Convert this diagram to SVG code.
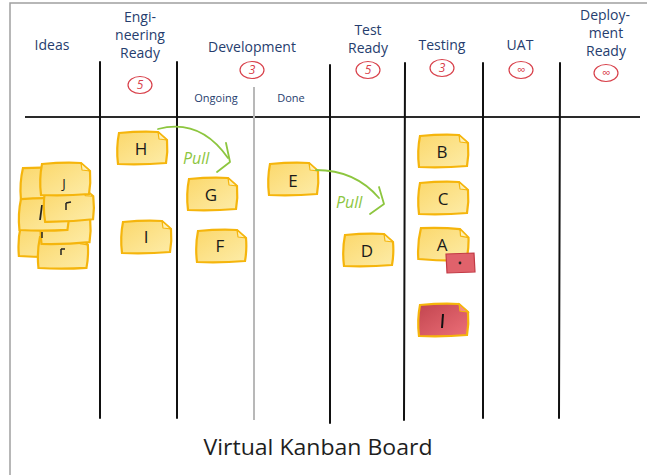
<svg xmlns="http://www.w3.org/2000/svg" width="647" height="475" viewBox="0 0 647 475">
  <defs>
    <linearGradient id="noteFill" x1="0" y1="0" x2="1" y2="1">
      <stop offset="0" stop-color="#fbd86c"/>
      <stop offset="1" stop-color="#fdeca8"/>
    </linearGradient>
    <linearGradient id="redFill" x1="0" y1="0" x2="1" y2="1">
      <stop offset="0" stop-color="#c2454f"/>
      <stop offset="1" stop-color="#ec6f78"/>
    </linearGradient>
    <!-- sticky note outline, 50 x 32, folded top-right corner -->
    <path id="note" d="M2,1 Q24,-1 41,0 L50,8 Q51,20 49,31 Q25,33 1,32 Q-1,16 2,1 Z"/>
    <path id="fold" d="M41,0 L42,7 L50,8 Z"/>
    <style>
      .frame { stroke: #a0a0a0; stroke-width: 1.5; fill: none; }
      .col { stroke: #111; stroke-width: 2; fill: none; stroke-linecap: round; }
      .sub { stroke: #b8b8b8; stroke-width: 2; fill: none; }
      .rule { stroke: #2a2a2a; stroke-width: 2; fill: none; }
      .head { font-family: "Open Sans", "DejaVu Sans", sans-serif; font-size: 14px; fill: #263d6e; text-anchor: middle; }
      .small { font-size: 11px; }
      .wip { fill: none; stroke: #d8404a; stroke-width: 1.2; }
      .wipt { font-family: "Open Sans", "DejaVu Sans", sans-serif; font-style: italic; font-size: 12px; fill: #d8404a; text-anchor: middle; }
      .y use.b { fill: url(#noteFill); stroke: #f5b50c; stroke-width: 2.2; }
      .y use.f { fill: #fdf0b8; stroke: #f5b50c; stroke-width: 1.2; stroke-linejoin: round; }
      .r use.b { fill: url(#redFill); stroke: #f5b50c; stroke-width: 2.2; }
      .r use.f { fill: #f08890; stroke: #f5b50c; stroke-width: 1.2; }
      .lbl { font-family: "Open Sans", "DejaVu Sans", sans-serif; font-size: 17px; fill: #1a1a1a; text-anchor: middle; }
      .pull { stroke: #8dc63f; stroke-width: 1.8; fill: none; stroke-linecap: round; stroke-linejoin: round; }
      .pullt { font-family: "Open Sans", "DejaVu Sans", sans-serif; font-style: italic; font-size: 16px; fill: #8dc63f; }
      .caption { font-family: "Open Sans", "Liberation Sans", sans-serif; font-size: 22px; fill: #1e1e1e; text-anchor: middle; }
    </style>
  </defs>

  <rect width="647" height="475" fill="#ffffff"/>

  <!-- outer frame: top and left edges -->
  <path class="frame" d="M10,475 L10,3 L647,3"/>

  <!-- board grid -->
  <g id="grid">
    <path class="rule" d="M25,117 L640,117"/>
    <path class="col" d="M100,62 L100,418"/>
    <path class="col" d="M177,62 L177,418"/>
    <path class="sub" d="M254,87 L254,420"/>
    <path class="col" d="M330,65 L330,423"/>
    <path class="col" d="M405,63 L404,420"/>
    <path class="col" d="M483,63 L483,418"/>
    <path class="col" d="M560,63 L559,418"/>
  </g>

  <!-- column headers and WIP limits -->
  <g id="headers">
    <text class="head" x="52" y="50">Ideas</text>
    <text class="head" x="140" y="22">Engi-</text>
    <text class="head" x="140" y="40">neering</text>
    <text class="head" x="140" y="58">Ready</text>
    <ellipse class="wip" cx="140" cy="85" rx="12" ry="8.5"/>
    <text class="wipt" x="140" y="89">5</text>

    <text class="head" x="252" y="52">Development</text>
    <ellipse class="wip" cx="252" cy="70" rx="12" ry="8.5"/>
    <text class="wipt" x="252" y="74">3</text>
    <text class="head small" x="216" y="102">Ongoing</text>
    <text class="head small" x="291" y="102">Done</text>

    <text class="head" x="368" y="35">Test</text>
    <text class="head" x="368" y="53">Ready</text>
    <ellipse class="wip" cx="368" cy="70" rx="12" ry="8.5"/>
    <text class="wipt" x="368" y="74">5</text>

    <text class="head" x="442" y="50">Testing</text>
    <ellipse class="wip" cx="442" cy="68" rx="12" ry="8.5"/>
    <text class="wipt" x="442" y="72">3</text>

    <text class="head" x="520" y="50">UAT</text>
    <ellipse class="wip" cx="521" cy="70" rx="12" ry="8.5"/>
    <text class="wipt" x="521" y="74">∞</text>

    <text class="head" x="605" y="20">Deploy-</text>
    <text class="head" x="606" y="38">ment</text>
    <text class="head" x="606" y="56">Ready</text>
    <ellipse class="wip" cx="606" cy="73" rx="12" ry="8.5"/>
    <text class="wipt" x="606" y="77">∞</text>
  </g>

  <!-- idea backlog stack -->
  <g id="ideas" class="y">
    <g transform="translate(21,167) rotate(2)"><use class="b" href="#note"/><use class="f" href="#fold"/></g>
    <g transform="translate(19,224) rotate(2)"><use class="b" href="#note"/><use class="f" href="#fold"/></g>
    <g transform="translate(38,236) rotate(1)"><use class="b" href="#note"/><use class="f" href="#fold"/></g>
    <path d="M61,249 L61,255 M61,249 L65,249" stroke="#222" stroke-width="1.5" fill="none"/>
    <g transform="translate(40,212) rotate(-1)"><use class="b" href="#note"/><use class="f" href="#fold"/></g>
    <path d="M42,232 L42,238" stroke="#222" stroke-width="1.5" fill="none"/>
    <g transform="translate(19,198) rotate(1)"><use class="b" href="#note"/><use class="f" href="#fold"/></g>
    <path d="M42,205 L40,220" stroke="#222" stroke-width="1.8" fill="none"/>
    <g transform="translate(43,190) rotate(-2)"><use class="b" href="#note"/><use class="f" href="#fold"/></g>
    <path d="M66,203 L66,210 M66,203 L71,202" stroke="#222" stroke-width="1.5" fill="none"/>
    <g transform="translate(40,163)"><use class="b" href="#note"/><use class="f" href="#fold"/></g>
    <text class="lbl" x="64" y="188" style="font-size:13px">J</text>
  </g>

  <!-- cards -->
  <g id="card-H" class="y">
    <g transform="translate(117,132)"><use class="b" href="#note"/><use class="f" href="#fold"/></g>
    <text class="lbl" x="141" y="155">H</text>
  </g>
  <g id="card-I" class="y">
    <g transform="translate(121,221)"><use class="b" href="#note"/><use class="f" href="#fold"/></g>
    <text class="lbl" x="146" y="243">I</text>
  </g>
  <g id="card-G" class="y">
    <g transform="translate(187,178)"><use class="b" href="#note"/><use class="f" href="#fold"/></g>
    <text class="lbl" x="211" y="201">G</text>
  </g>
  <g id="card-F" class="y">
    <g transform="translate(196,230)"><use class="b" href="#note"/><use class="f" href="#fold"/></g>
    <text class="lbl" x="220" y="252">F</text>
  </g>
  <g id="card-E" class="y">
    <g transform="translate(268,163)"><use class="b" href="#note"/><use class="f" href="#fold"/></g>
    <text class="lbl" x="293" y="187">E</text>
  </g>
  <g id="card-D" class="y">
    <g transform="translate(343,234)"><use class="b" href="#note"/><use class="f" href="#fold"/></g>
    <text class="lbl" x="367" y="257">D</text>
  </g>
  <g id="card-B" class="y">
    <g transform="translate(418,135)"><use class="b" href="#note"/><use class="f" href="#fold"/></g>
    <text class="lbl" x="442" y="158">B</text>
  </g>
  <g id="card-C" class="y">
    <g transform="translate(418,182)"><use class="b" href="#note"/><use class="f" href="#fold"/></g>
    <text class="lbl" x="443" y="205">C</text>
  </g>
  <g id="card-A" class="y">
    <g transform="translate(419,227) rotate(3)"><use class="b" href="#note"/><use class="f" href="#fold"/></g>
    <text class="lbl" x="442" y="251">A</text>
  </g>
  <g id="blocker-A">
    <path d="M446,254 L474,253 L475,272 L447,273 Z" fill="#e0626b" stroke="#c23a45" stroke-width="1.2"/>
    <circle cx="460" cy="263" r="1.4" fill="#222"/>
  </g>
  <g id="card-I-blocked" class="r">
    <g transform="translate(418,304)"><use class="b" href="#note"/><use class="f" href="#fold"/></g>
    <path d="M443,314 L442,328" stroke="#111" stroke-width="2" fill="none"/>
  </g>

  <!-- pull connectors -->
  <g id="connectors">
    <path class="pull" d="M158,129 Q200,118 228,158"/>
    <path class="pull" d="M226,143 L230,162 L217,172"/>
    <text class="pullt" x="183" y="164">Pull</text>

    <path class="pull" d="M316,170 Q355,170 379,198"/>
    <path class="pull" d="M379,187 L384,204 L370,214"/>
    <text class="pullt" x="336" y="208">Pull</text>
  </g>

  <text class="caption" x="318" y="455" textLength="229" lengthAdjust="spacingAndGlyphs">Virtual Kanban Board</text>
</svg>
